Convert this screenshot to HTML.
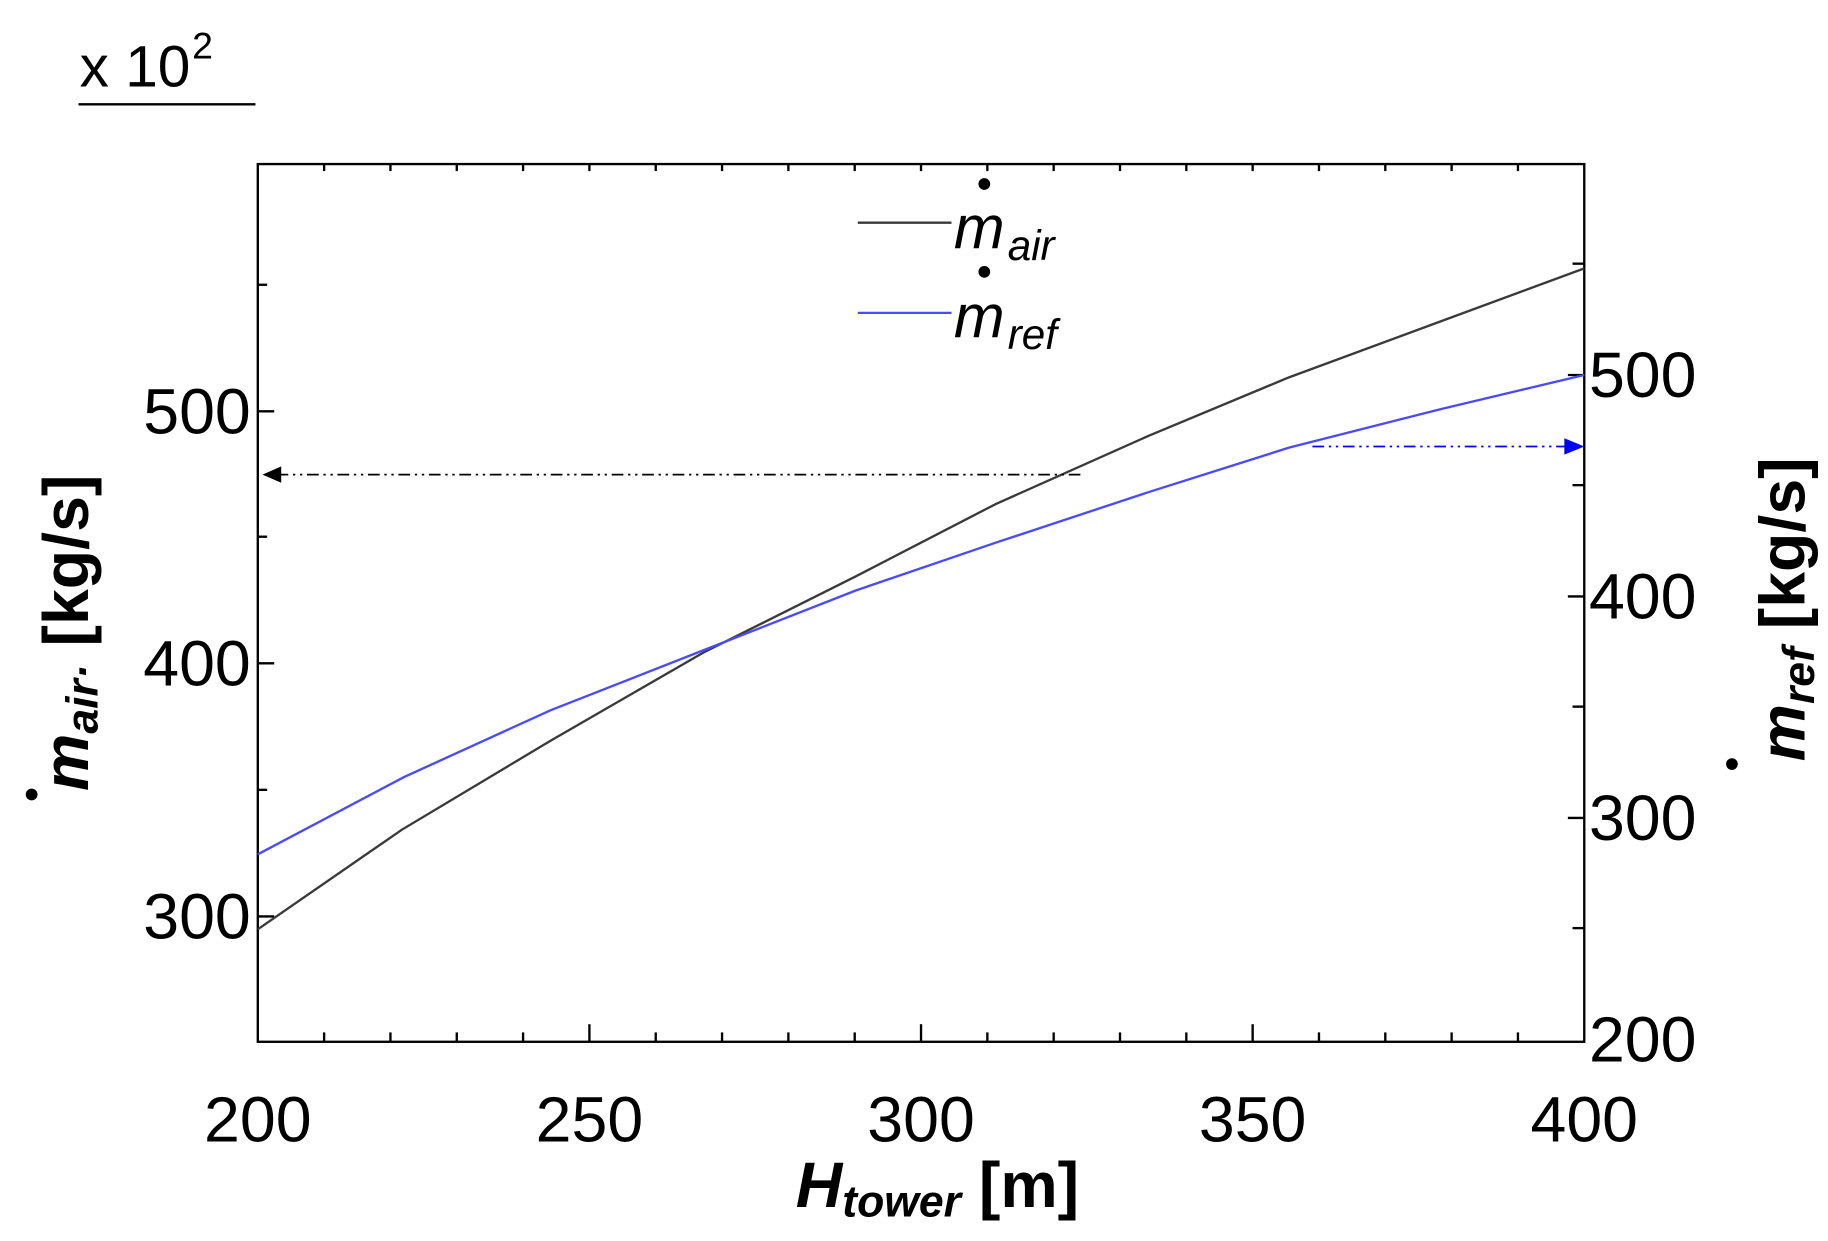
<!DOCTYPE html>
<html><head><meta charset="utf-8"><style>html,body{margin:0;padding:0;background:#fff}svg{display:block}</style></head>
<body>
<svg width="1828" height="1241" viewBox="0 0 1560 1059" preserveAspectRatio="none" xmlns="http://www.w3.org/2000/svg" font-family="Liberation Sans, Arial, sans-serif">
<rect width="1560" height="1059" fill="#fff"/>
<text x="68" y="74" font-size="50">x 10</text>
<text x="164" y="50" font-size="32">2</text>
<line x1="67" y1="89" x2="218" y2="89" stroke="#000" stroke-width="2"/>
<rect x="220" y="140" width="1132" height="749" fill="none" stroke="#000" stroke-width="2"/>
<g stroke="#000" stroke-width="2">
<line x1="276.6" y1="889" x2="276.6" y2="881"/><line x1="333.2" y1="889" x2="333.2" y2="881"/><line x1="389.8" y1="889" x2="389.8" y2="881"/><line x1="446.4" y1="889" x2="446.4" y2="881"/>
<line x1="503" y1="889" x2="503" y2="874"/>
<line x1="559.6" y1="889" x2="559.6" y2="881"/><line x1="616.2" y1="889" x2="616.2" y2="881"/><line x1="672.8" y1="889" x2="672.8" y2="881"/><line x1="729.4" y1="889" x2="729.4" y2="881"/>
<line x1="786" y1="889" x2="786" y2="874"/>
<line x1="842.6" y1="889" x2="842.6" y2="881"/><line x1="899.2" y1="889" x2="899.2" y2="881"/><line x1="955.8" y1="889" x2="955.8" y2="881"/><line x1="1012.4" y1="889" x2="1012.4" y2="881"/>
<line x1="1069" y1="889" x2="1069" y2="874"/>
<line x1="1125.6" y1="889" x2="1125.6" y2="881"/><line x1="1182.2" y1="889" x2="1182.2" y2="881"/><line x1="1238.8" y1="889" x2="1238.8" y2="881"/><line x1="1295.4" y1="889" x2="1295.4" y2="881"/>
<line x1="276.6" y1="140" x2="276.6" y2="146"/><line x1="333.2" y1="140" x2="333.2" y2="146"/><line x1="389.8" y1="140" x2="389.8" y2="146"/><line x1="446.4" y1="140" x2="446.4" y2="146"/><line x1="503" y1="140" x2="503" y2="146"/><line x1="559.6" y1="140" x2="559.6" y2="146"/><line x1="616.2" y1="140" x2="616.2" y2="146"/><line x1="672.8" y1="140" x2="672.8" y2="146"/><line x1="729.4" y1="140" x2="729.4" y2="146"/><line x1="786" y1="140" x2="786" y2="146"/><line x1="842.6" y1="140" x2="842.6" y2="146"/><line x1="899.2" y1="140" x2="899.2" y2="146"/><line x1="955.8" y1="140" x2="955.8" y2="146"/><line x1="1012.4" y1="140" x2="1012.4" y2="146"/><line x1="1069" y1="140" x2="1069" y2="146"/><line x1="1125.6" y1="140" x2="1125.6" y2="146"/><line x1="1182.2" y1="140" x2="1182.2" y2="146"/><line x1="1238.8" y1="140" x2="1238.8" y2="146"/><line x1="1295.4" y1="140" x2="1295.4" y2="146"/>
<line x1="220" y1="782" x2="234" y2="782"/><line x1="220" y1="566" x2="234" y2="566"/><line x1="220" y1="351" x2="234" y2="351"/>
<line x1="220" y1="674" x2="228" y2="674"/><line x1="220" y1="458" x2="228" y2="458"/><line x1="220" y1="243" x2="228" y2="243"/>
<line x1="1352" y1="320" x2="1338" y2="320"/><line x1="1352" y1="509" x2="1338" y2="509"/><line x1="1352" y1="698" x2="1338" y2="698"/>
<line x1="1352" y1="414" x2="1342" y2="414"/><line x1="1352" y1="603" x2="1342" y2="603"/><line x1="1352" y1="792" x2="1342" y2="792"/><line x1="1352" y1="225" x2="1342" y2="225"/>
</g>
<g font-size="55" fill="#000">
<text x="220" y="974" text-anchor="middle">200</text>
<text x="503" y="974" text-anchor="middle">250</text>
<text x="786" y="974" text-anchor="middle">300</text>
<text x="1069" y="974" text-anchor="middle">350</text>
<text x="1352" y="974" text-anchor="middle">400</text>
<text x="214" y="801" text-anchor="end">300</text>
<text x="214" y="585" text-anchor="end">400</text>
<text x="214" y="370" text-anchor="end">500</text>
<text x="1356" y="339">500</text>
<text x="1356" y="528">400</text>
<text x="1356" y="717">300</text>
<text x="1356" y="906">200</text>
</g>
<polyline fill="none" stroke="#3a3a3a" stroke-width="2" points="220,793 343,708 470,632 600,557 730,492 850,430 980,372 1100,322 1230,274 1352,229"/>
<polyline fill="none" stroke="#4a4aff" stroke-width="2" points="220,729 345,663 470,606 600,555 730,504 850,463 980,420 1100,382 1230,349 1352,320"/>
<line x1="922" y1="405" x2="236" y2="405" stroke="#000" stroke-width="1.5" stroke-dasharray="10,4,2,4,2,4"/>
<polygon points="224,405 240,398 240,412" fill="#000"/>
<line x1="1120" y1="381" x2="1338" y2="381" stroke="#0000ff" stroke-width="1.5" stroke-dasharray="10,4,2,4,2,4"/>
<polygon points="1352,381 1335,374 1335,388" fill="#0000ff"/>
<line x1="732" y1="190" x2="812" y2="190" stroke="#3a3a3a" stroke-width="2"/>
<circle cx="840" cy="157" r="5" fill="#000"/>
<text x="814" y="212" font-size="52" font-style="italic">m</text>
<text x="860" y="222" font-size="36" font-style="italic">air</text>
<line x1="732" y1="267" x2="812" y2="267" stroke="#4a4aff" stroke-width="2"/>
<circle cx="840" cy="232" r="5" fill="#000"/>
<text x="814" y="288" font-size="52" font-style="italic">m</text>
<text x="860" y="298" font-size="36" font-style="italic">ref</text>
<text x="800" y="1030" text-anchor="middle" font-size="55" font-weight="bold"><tspan font-style="italic">H</tspan><tspan font-style="italic" font-size="38" dy="8">tower</tspan><tspan dy="-8">  [m]</tspan></text>
<g transform="translate(75,540) rotate(-90)">
<text x="0" y="0" text-anchor="middle" font-size="55" font-weight="bold"><tspan font-style="italic">m</tspan><tspan font-style="italic" font-size="38" dy="8">air·</tspan><tspan dy="-8">  [kg/s]</tspan></text>
</g>
<circle cx="27" cy="678" r="5" fill="#000"/>
<g transform="translate(1540,520) rotate(-90)">
<text x="0" y="0" text-anchor="middle" font-size="55" font-weight="bold"><tspan font-style="italic">m</tspan><tspan font-style="italic" font-size="38" dy="8">ref</tspan><tspan dy="-8">  [kg/s]</tspan></text>
</g>
<circle cx="1478" cy="652" r="5" fill="#000"/>
</svg>
</body></html>
